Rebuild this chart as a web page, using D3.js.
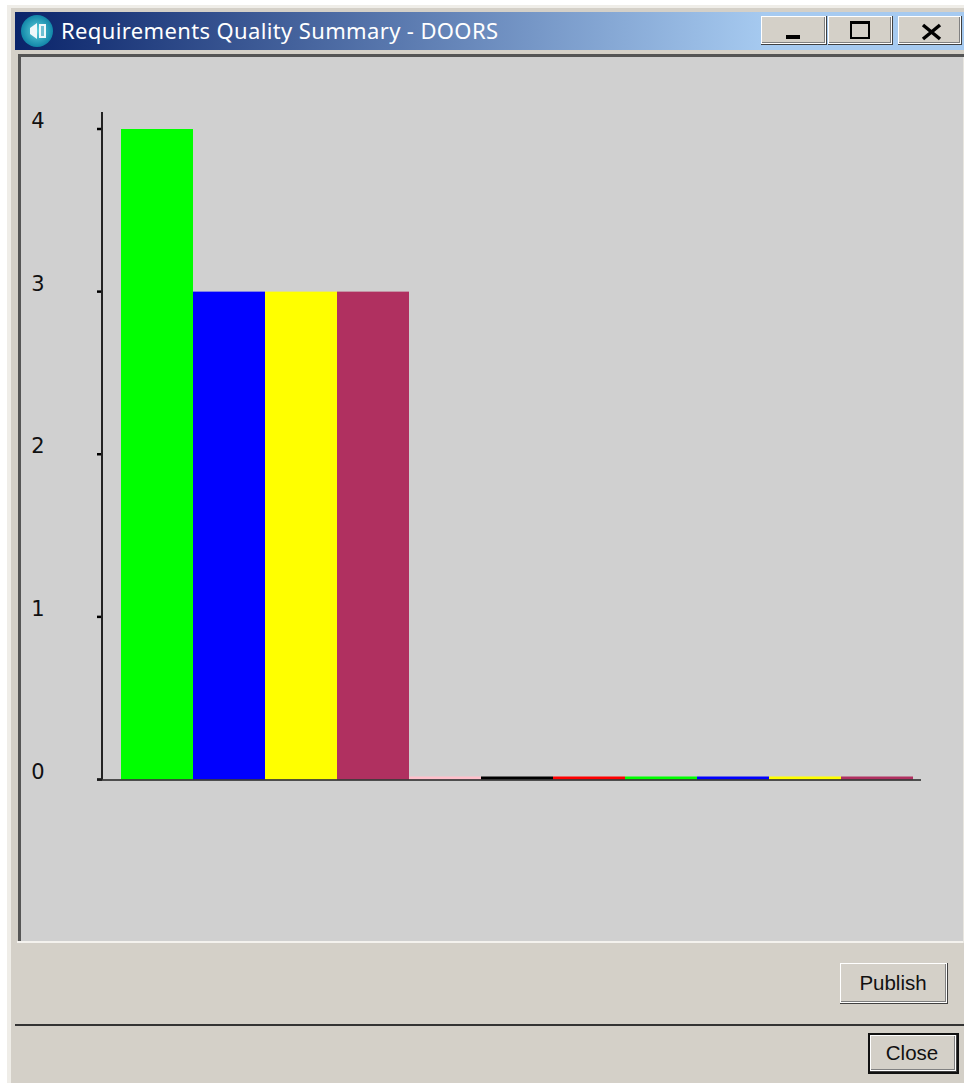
<!DOCTYPE html>
<html>
<head>
<meta charset="utf-8">
<title>Requirements Quality Summary - DOORS</title>
<script src="https://cdnjs.cloudflare.com/ajax/libs/d3/7.9.0/d3.min.js"></script>
<style>
  html, body { margin: 0; padding: 0; background: #fff; }
  svg { display: block; }
</style>
</head>
<body>
<div id="container"></div>
<script>
// Requirements Quality Summary dialog, bars
const barIds = ["a", "b", "c", "d", "e", "f", "g", "h", "i", "j", "k"];
const barValues = [4, 3, 3, 3, 0, 0, 0, 0, 0, 0, 0];
const barColors = ["#00ff00", "#0000ff", "#ffff00", "#b03060", "#ffc0cb", "#000000",
  "#ff0000", "#00ff00", "#0000ff", "#ffff00", "#b03060"];
const yTicks = [0, 1, 2, 3, 4];

const width = 964, height = 1083;
const chrome = "#d4d0c8";

const svg = d3.select("#container").append("svg")
  .attr("width", width)
  .attr("height", height);

const defs = svg.append("defs");
const titleGrad = defs.append("linearGradient").attr("id", "titleGrad");
titleGrad.append("stop").attr("offset", "0%").attr("stop-color", "#0a246a");
titleGrad.append("stop").attr("offset", "79%").attr("stop-color", "#a6caf0");
const iconGrad = defs.append("radialGradient").attr("id", "iconGrad");
iconGrad.append("stop").attr("offset", "0%").attr("stop-color", "#5fd0dc");
iconGrad.append("stop").attr("offset", "100%").attr("stop-color", "#1186a8");

function rect(x, y, w, h, fill) {
  return svg.append("rect").attr("x", x).attr("y", y).attr("width", w).attr("height", h).attr("fill", fill);
}

// Window frame
rect(7, 5, width - 7, height - 5, "#efedE8");
rect(11, 8, width - 11, height - 8, chrome);
rect(15, 12, width - 15, 38, "url(#titleGrad)");

// Title bar
svg.append("circle").attr("cx", 37).attr("cy", 31).attr("r", 16).attr("fill", "url(#iconGrad)");
svg.append("path").attr("d", "M30 28 L37 23 L37 39 L30 34 Z").attr("fill", "#eef8fa");
rect(39, 24, 7, 14, "#eef8fa");
rect(41, 26, 3, 10, "#6fc0d2");

svg.append("text")
  .attr("x", 61).attr("y", 39)
  .attr("fill", "#ffffff")
  .style("font-family", "'Noto Sans', sans-serif")
  .style("font-size", "22px")
  .attr("textLength", 437)
  .text("Requirements Quality Summary - DOORS");

function button(x, y, w, h) {
  rect(x, y, w, h, "#404040");
  rect(x, y, w - 1, h - 1, "#ffffff");
  rect(x + 1, y + 1, w - 3, h - 3, "#808080");
  rect(x + 1, y + 1, w - 4, h - 4, chrome);
}
button(761, 16, 66, 29);
button(828, 16, 65, 29);
button(898, 16, 64, 29);
rect(786, 35, 14, 4, "#000");
svg.append("rect").attr("x", 851).attr("y", 22).attr("width", 18).attr("height", 16)
  .attr("fill", "none").attr("stroke", "#000").attr("stroke-width", 2);
rect(850, 21, 20, 3, "#000");
svg.append("path").attr("d", "M923 25 L940 39 M940 25 L923 39")
  .attr("stroke", "#000").attr("stroke-width", 3.5).attr("fill", "none");

// Chart panel
rect(18, 54, width - 18, 889, "#555555");
rect(21, 57, width - 21, 884, "#d0d0d0");
rect(17, 941, width - 17, 2, "#f4f2ee");
rect(963, 57, 1, 886, "#e8e6e0");

// Scales
const x = d3.scaleBand().domain(barIds).range([121, 913]);
const y = d3.scaleLinear().domain([0, 4]).range([779.5, 129]);
const zeroBarHeight = 3;

// Bars, the zero ones still show as a thin strip on the baseline
svg.append("g").selectAll("rect")
  .data(barIds)
  .join("rect")
  .attr("x", d => x(d))
  .attr("width", x.bandwidth())
  .attr("y", (d, i) => Math.min(y(barValues[i]), y(0) - zeroBarHeight))
  .attr("height", (d, i) => Math.max(y(0) - y(barValues[i]), zeroBarHeight))
  .attr("fill", (d, i) => barColors[i]);

// Y axis
const yAxisEl = svg.append("g")
  .attr("transform", "translate(102,-0.5)")
  .call(d3.axisLeft(y).tickValues(yTicks).tickSize(5).tickFormat(d3.format("d")));
yAxisEl.select(".domain").remove();
yAxisEl.selectAll("line").attr("stroke", "#000").attr("stroke-width", 2.5);
yAxisEl.selectAll("text")
  .attr("x", -64)
  .attr("dy", "-0.04em")
  .attr("text-anchor", "middle")
  .attr("fill", "#111")
  .style("font-family", "'DejaVu Sans', sans-serif")
  .style("font-size", "21px");

svg.append("line")
  .attr("x1", 102).attr("x2", 102)
  .attr("y1", 112).attr("y2", y(0))
  .attr("stroke", "#222").attr("stroke-width", 2);
svg.append("line")
  .attr("x1", 97).attr("x2", 921)
  .attr("y1", y(0) + 0.5).attr("y2", y(0) + 0.5)
  .attr("stroke", "#222").attr("stroke-width", 1.5);

// Bottom buttons
function label(text, cx, cy) {
  svg.append("text")
    .attr("x", cx).attr("y", cy)
    .attr("text-anchor", "middle")
    .attr("fill", "#111")
    .style("font-family", "'Liberation Sans', Arial, sans-serif")
    .style("font-size", "20.5px")
    .text(text);
}
button(840, 963, 108, 41);
label("Publish", 893, 990);

rect(15, 1024, width - 15, 2, "#333333");

rect(868, 1033, 91, 41, "#111111");
button(870, 1035, 87, 37);
label("Close", 912, 1060);
</script>
</body>
</html>
